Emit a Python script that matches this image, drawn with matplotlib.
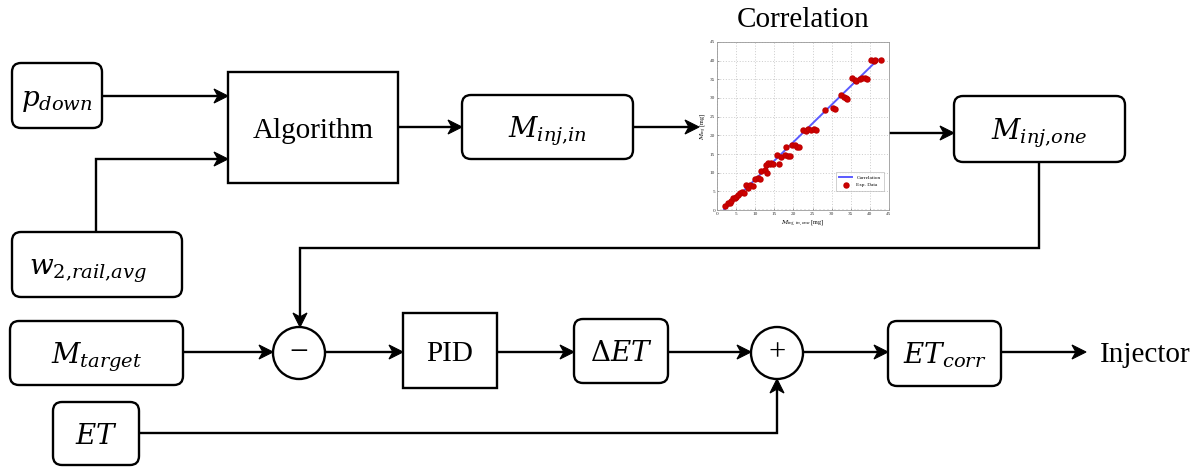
import matplotlib
matplotlib.use("Agg")
import numpy as np
import matplotlib.pyplot as plt
from matplotlib.patches import FancyBboxPatch, Rectangle, Circle, Polygon

plt.rcParams['mathtext.fontset'] = 'dejavuserif'
plt.rcParams['font.family'] = ['Liberation Serif', 'DejaVu Serif']

# ---------------- data for the correlation inset ----------------
exp_x = [2.0, 2.9, 3.3, 3.6, 4.2, 4.6, 5.1, 5.5, 6.1, 6.6, 7.0,
         7.7, 8.2, 8.7, 9.3, 9.9, 10.7, 11.2,
         11.6, 12.5, 13.1, 12.9, 13.4, 13.8, 14.2, 14.6,
         15.7, 16.2, 16.8, 17.7, 18.1, 18.6, 19.0,
         19.6, 20.3, 21.0, 21.5,
         22.5, 23.2, 23.8, 24.7, 25.3, 25.9,
         28.2, 30.3, 31.0,
         32.5, 33.1, 33.7, 34.0,
         35.4, 36.0, 36.4, 37.3, 38.0, 38.6, 39.3,
         40.4, 41.0, 41.3, 43.0]
exp_y = [1.1, 1.8, 2.0, 2.4, 3.1, 3.3, 3.6, 4.1, 4.6, 4.9, 4.6,
         6.7, 6.0, 6.7, 6.3, 8.2, 8.5, 8.3,
         10.5, 10.7, 9.8, 12.0, 12.6, 12.2, 12.7, 12.4,
         14.7, 12.3, 14.3, 14.6, 17.0, 14.5, 14.4,
         17.5, 17.4, 16.9, 16.8,
         21.5, 21.2, 21.6, 21.3, 21.6, 21.4,
         26.8, 27.3, 27.0,
         30.7, 30.4, 30.0, 29.6,
         35.3, 34.9, 34.6, 35.2, 35.4, 35.3, 35.1,
         40.3, 40.0, 40.3, 40.3]
corr_x = [1.8, 42.1]
corr_y = [0.0, 40.3]
inset_ticks = [0, 5, 10, 15, 20, 25, 30, 35, 40, 45]

# ---------------- diagram labels ----------------
lbl_pdown = r'$p_{down}$'
lbl_w2 = r'$w_{2{,}rail{,}avg}$'
lbl_minj_in = r'$M_{inj{,}in}$'
lbl_minj_one = r'$M_{inj{,}one}$'
lbl_mtarget = r'$M_{target}$'
lbl_et = r'$ET$'
lbl_det = r'$\Delta ET$'
lbl_etcorr = r'$ET_{corr}$'
lbl_alg = 'Algorithm'
lbl_pid = 'PID'
lbl_inj = 'Injector'
lbl_corr = 'Correlation'

fig = plt.figure(figsize=(12, 4.68), dpi=100)
ax = fig.add_axes([0, 0, 1, 1])
ax.set_xlim(0, 1200)
ax.set_ylim(468, 0)
ax.axis('off')

LW = 1.7
FS = 21     # plain serif text
MFS = 20    # math labels


def rbox(x0, y0, x1, y1, label, tx=None, dy=10.0):
    p = FancyBboxPatch((x0, y0), x1 - x0, y1 - y0,
                       boxstyle='round,pad=0,rounding_size=9',
                       fc='white', ec='black', lw=LW, zorder=3)
    ax.add_patch(p)
    cx = (x0 + x1) / 2 if tx is None else tx
    ax.text(cx, (y0 + y1) / 2 + dy, label, ha='center', va='baseline',
            fontsize=MFS, zorder=4)


def sbox(x0, y0, x1, y1, label, dy=10.5):
    p = Rectangle((x0, y0), x1 - x0, y1 - y0, fc='white', ec='black',
                  lw=LW, zorder=3)
    ax.add_patch(p)
    ax.text((x0 + x1) / 2, (y0 + y1) / 2 + dy, label, ha='center',
            va='baseline', fontsize=FS, zorder=4)


def arrow(pts, L=14.0, W=7.0):
    pts = [np.array(p, dtype=float) for p in pts]
    a, b = pts[-2], pts[-1]
    d = (b - a) / np.linalg.norm(b - a)
    n = np.array([-d[1], d[0]])
    notch = b - 0.72 * L * d
    line_pts = pts[:-1] + [notch]
    xs = [p[0] for p in line_pts]
    ys = [p[1] for p in line_pts]
    ax.plot(xs, ys, color='black', lw=LW, solid_joinstyle='miter',
            zorder=2)
    back = b - L * d
    head = Polygon([b, back + W * n, notch, back - W * n], closed=True,
                   fc='black', ec='black', lw=0.8, zorder=2)
    ax.add_patch(head)


# boxes
rbox(12, 63, 102, 128, lbl_pdown, dy=11)
rbox(12, 232, 182, 297, lbl_w2, tx=88, dy=10)
sbox(228, 72, 398, 183, lbl_alg)
rbox(462, 95, 633, 159, lbl_minj_in)
rbox(954, 96, 1125, 162, lbl_minj_one)
rbox(10, 321, 183, 385, lbl_mtarget)
sbox(403, 313, 497, 388, lbl_pid)
rbox(574, 319, 668, 383, lbl_det)
rbox(888, 321, 1001, 386, lbl_etcorr)
rbox(53, 402, 139, 465, lbl_et)

# summing junctions
for cx, sym, fs in [(299, '\u2212', 24), (777, '+', 22)]:
    ax.add_patch(Circle((cx, 353), 26, fc='white', ec='black', lw=LW,
                        zorder=3))
    ax.text(cx, 353, sym, ha='center', va='center', fontsize=fs,
            zorder=4)

# arrows
arrow([(102, 96), (228, 96)])
arrow([(96, 232), (96, 159), (228, 159)])
arrow([(398, 127), (462, 127)])
arrow([(633, 127), (699, 127)])
arrow([(889, 133), (954, 133)])
arrow([(1039, 162), (1039, 248), (300, 248), (300, 327)])
arrow([(183, 352), (273, 352)])
arrow([(325, 352), (403, 352)])
arrow([(497, 352), (574, 352)])
arrow([(668, 352), (751, 352)])
arrow([(803, 352), (888, 352)])
arrow([(1001, 352), (1086, 352)])
arrow([(139, 433), (777, 433), (777, 379)])

ax.text(1100, 362, lbl_inj, ha='left', va='baseline', fontsize=FS)
ax.text(803, 27, lbl_corr, ha='center', va='baseline', fontsize=FS)

# ---------------- inset correlation plot ----------------
W_, H_ = 1200.0, 468.0
l, r, t, b = 717, 889, 42, 210
iax = fig.add_axes([l / W_, 1 - b / H_, (r - l) / W_, (b - t) / H_])
iax.plot(corr_x, corr_y, color='#5a5aff', lw=1.4, label='Correlation',
         zorder=2)
iax.plot(exp_x, exp_y, 'o', color='#d00000', ms=3.6, mec='#c00000',
         label='Exp. Data', zorder=3, lw=0)
iax.set_xlim(0, 45)
iax.set_ylim(0, 45)
iax.set_xticks(inset_ticks)
iax.set_yticks(inset_ticks)
iax.set_xticks(range(0, 46, 1), minor=True)
iax.set_yticks(range(0, 46, 1), minor=True)
iax.tick_params(labelsize=3.8, length=1.5, width=0.4, direction='in',
                pad=1.5, colors='#555555', labelcolor='#333333')
iax.tick_params(which='minor', length=0.8, width=0.3, direction='in',
                colors='#888888')
iax.grid(True, which='major', ls=(0, (1.5, 2.5)), lw=0.5, color='#bbbbbb')
for s in iax.spines.values():
    s.set_color('#999999')
    s.set_linewidth(0.6)
iax.set_xlabel(r'$M_{inj,in,one}$ [mg]', fontsize=4.4, labelpad=1.5)
iax.set_ylabel(r'$M_{inj}$ [mg]', fontsize=4.4, labelpad=1.5)
leg = iax.legend(loc='lower right', fontsize=3.8, frameon=True,
                 fancybox=False, edgecolor='#999999', handlelength=2.5,
                 borderpad=0.6, labelspacing=0.6,
                 bbox_to_anchor=(0.985, 0.1))
leg.get_frame().set_linewidth(0.4)

fig.savefig('out.png', dpi=100, facecolor='white')
